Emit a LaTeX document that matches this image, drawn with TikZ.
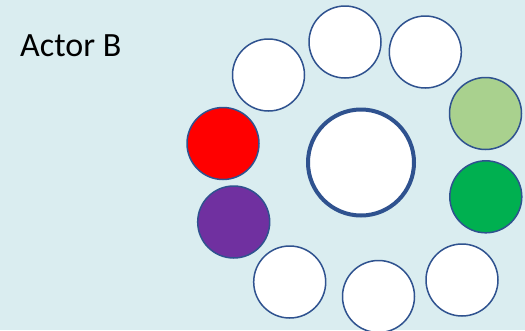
\documentclass[tikz,border=0pt]{standalone}
\usepackage{fontspec}
\setmainfont{Carlito}
\definecolor{bgc}{HTML}{DAEDF0}
\definecolor{rim}{HTML}{2F528F}
\definecolor{lgreen}{HTML}{A9D18E}
\definecolor{dgreen}{HTML}{00B050}
\definecolor{purp}{HTML}{7030A0}
\begin{document}
\begin{tikzpicture}[x=1pt,y=-1pt,
  dot/.style={circle,draw=rim,line width=1.5pt,minimum size=72pt,inner sep=0pt,fill=white},
  hub/.style={circle,draw=rim,line width=4pt,minimum size=106pt,inner sep=0pt,fill=white}]
\fill[bgc] (0,0) rectangle (525,330);
\useasboundingbox (0,0) rectangle (525,330);
\node[anchor=base west,inner sep=0pt,font=\fontsize{34}{40}\selectfont] (label) at (20,56) {Actor B};
\node[hub] (center) at (361,162.5) {};
\node[dot] (tl) at (268.5,75) {};
\node[dot] (top) at (345,42) {};
\node[dot] (tr) at (425.3,52) {};
\node[dot,fill=lgreen] (lg) at (485.5,113.5) {};
\node[dot,fill=red] (rd) at (223,143.5) {};
\node[dot,fill=dgreen] (dg) at (485.8,196.8) {};
\node[dot,fill=purp] (pu) at (233.7,222) {};
\node[dot] (bl) at (289.7,282) {};
\node[dot] (bot) at (378.5,296.5) {};
\node[dot] (br) at (462,280) {};
\end{tikzpicture}
\end{document}
